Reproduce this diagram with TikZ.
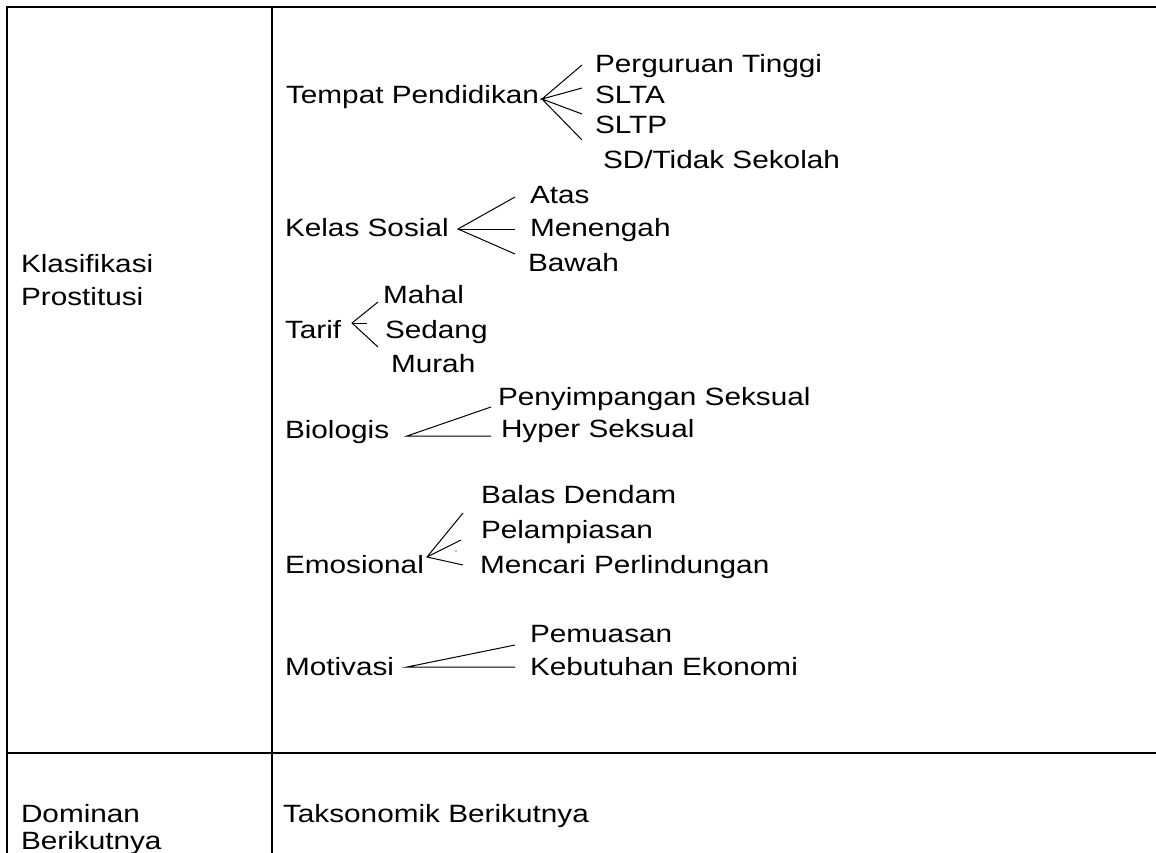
\documentclass[tikz,border=0pt]{standalone}
\usepackage{fontspec}
\setmainfont{Liberation Sans}[FakeStretch=1.19]
\begin{document}
\begin{tikzpicture}[x=1pt,y=-1pt,
  txt/.style={anchor=base west,inner sep=0pt,outer sep=0pt,font=\fontsize{25}{29}\selectfont},
  rule/.style={line width=2pt,line cap=rect},
  conn/.style={line width=1pt}]
\useasboundingbox (0,0) rectangle (1156,852);
\clip (0,0) rectangle (1156,852);
\fill[white] (0,0) rectangle (1156,852);
% table rules
\coordinate (tl) at (7,7);
\coordinate (tr) at (1170,7);
\coordinate (bl) at (7,870);
\coordinate (mt) at (272,7);
\coordinate (mb) at (272,870);
\coordinate (hl) at (7,753);
\coordinate (hr) at (1170,753);
\draw[rule] (bl) -- (tl) -- (tr);
\draw[rule] (mt) -- (mb);
\draw[rule] (hl) -- (hr);
% left column
\node[txt] (kla) at (21,272) {Klasifikasi};
\node[txt] (pro) at (21,305) {Prostitusi};
\node[txt] (dom) at (21,822) {Dominan};
\node[txt] (ber) at (21,849) {Berikutnya};
\node[txt] (tak) at (283,822) {Taksonomik Berikutnya};
% Tempat Pendidikan
\node[txt] (tp) at (286,103) {Tempat Pendidikan};
\node[txt] (tp1) at (595,72) {Perguruan Tinggi};
\node[txt] (tp2) at (595,103) {SLTA};
\node[txt] (tp3) at (595,133) {SLTP};
\node[txt] (tp4) at (603,168) {SD/Tidak Sekolah};
\coordinate (tpa) at (542,99);
\coordinate (tpe1) at (582,65);
\coordinate (tpe2) at (582,88);
\coordinate (tpe3) at (582,114);
\coordinate (tpe4) at (582,140);
\draw[conn] (tpe1) -- (tpa) -- (tpe2);
\draw[conn] (tpe3) -- (tpa) -- (tpe4);
% Kelas Sosial
\node[txt] (ks) at (285,236) {Kelas Sosial};
\node[txt] (ks1) at (530,203) {Atas};
\node[txt] (ks2) at (530,236) {Menengah};
\node[txt] (ks3) at (528,271) {Bawah};
\coordinate (ksa) at (458,229);
\coordinate (kse1) at (515,197);
\coordinate (kse2) at (515,229);
\coordinate (kse3) at (515,254);
\draw[conn] (kse1) -- (ksa) -- (kse3);
\draw[conn] (ksa) -- (kse2);
% Tarif
\node[txt] (ta) at (285,338) {Tarif};
\node[txt] (ta1) at (383,303) {Mahal};
\node[txt] (ta2) at (385,338) {Sedang};
\node[txt] (ta3) at (391,372) {Murah};
\coordinate (taa) at (352,323);
\coordinate (tae1) at (378,302);
\coordinate (tae2) at (367,323);
\coordinate (tae3) at (378,347);
\draw[conn] (tae1) -- (taa) -- (tae3);
\draw[conn] (taa) -- (tae2);
% Biologis
\node[txt] (bi) at (285,438) {Biologis};
\node[txt] (bi1) at (498,405) {Penyimpangan Seksual};
\node[txt] (bi2) at (501,437) {Hyper Seksual};
\coordinate (bia) at (407,436);
\coordinate (bie1) at (491,407);
\coordinate (bie2) at (491,436);
\draw[conn] (bie1) -- (bia) -- (bie2);
% Emosional
\node[txt] (em) at (285,573) {Emosional};
\node[txt] (em1) at (481,503) {Balas Dendam};
\node[txt] (em2) at (481,538) {Pelampiasan};
\node[txt] (em3) at (480,573) {Mencari Perlindungan};
\coordinate (ema) at (427,557);
\coordinate (eme1) at (463,513);
\coordinate (eme2) at (461,540);
\coordinate (eme3) at (463,565);
\draw[conn] (eme1) -- (ema) -- (eme3);
\draw[conn] (ema) -- (eme2);
\fill (456,551) circle (0.7);
% Motivasi
\node[txt] (mo) at (285,675) {Motivasi};
\node[txt] (mo1) at (530,642) {Pemuasan};
\node[txt] (mo2) at (530,675) {Kebutuhan Ekonomi};
\coordinate (moa) at (407,667);
\coordinate (moe1) at (515,645);
\coordinate (moe2) at (515,667);
\draw[conn] (moe1) -- (moa) -- (moe2);
\end{tikzpicture}
\end{document}
